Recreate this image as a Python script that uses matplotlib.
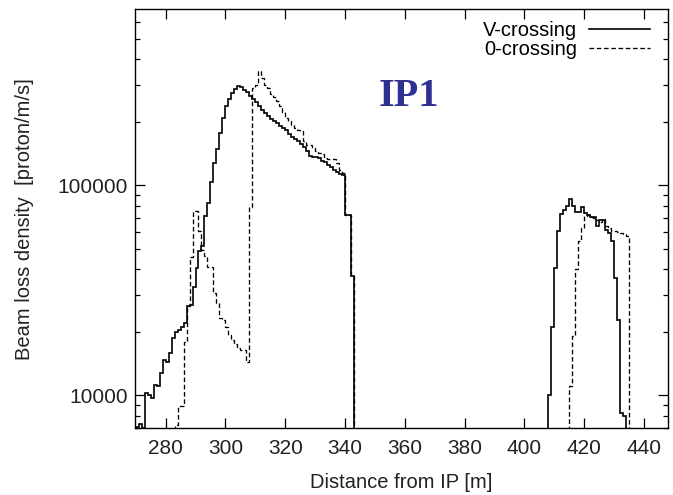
import numpy as np
import matplotlib
matplotlib.use("Agg")
import matplotlib.pyplot as plt
from matplotlib.lines import Line2D

# ---------------- data (1 m bins) ----------------
bin_width = 1.0

vcross_left_start = 270
vcross_left = [7100, 7300, 7000, 10260, 10000, 9700, 11250, 11100, 12800, 14800,
               14500, 15900, 18750, 19950, 20400, 21200, 22100, 26600, 27000, 33000,
               40500, 48500, 51300, 71200, 82500, 103400, 127900, 149000, 178700, 209400,
               237700, 257600, 275400, 287900, 296000, 293000, 285800, 277300, 265600, 257600,
               248500, 240000, 229300, 222000, 214600, 207000, 203000, 198000, 192000, 187000,
               182700, 176000, 170000, 166000, 162000, 157000, 152500, 146000, 138600, 137000,
               136000, 134600, 131000, 128900, 125000, 122500, 119000, 115400, 114000, 112200,
               72400, 72400, 37200]

vcross_right_start = 408
vcross_right = [10070, 21300, 40500, 60400, 73000, 76600, 80000, 86100, 80000, 75100,
                75100, 78900, 73800, 72500, 71100, 71100, 63800, 68700, 68700, 61500,
                59300, 54100, 36200, 22900, 8250, 8000]

zcross_left_start = 283
zcross_left = [7200, 8900, 8900, 18000, 26600, 45600, 75200, 75200, 60400, 49400,
               45900, 40800, 40800, 30800, 27600, 23500, 22900, 21300, 19500, 18400,
               17500, 16800, 16500, 16500, 14500, 79400, 290000, 300000, 349000, 324000,
               301000, 290000, 274000, 265000, 253000, 237700, 224700, 209000, 201700, 194500,
               187600, 184200, 180800, 162200, 155000, 155000, 150700, 146000, 143000, 140500,
               135500, 134000, 133500, 134000, 128000, 118800, 114500, 72400, 72400, 37200]

zcross_right_start = 415
zcross_right = [11100, 19300, 40000, 54100, 63000, 71500, 72500, 71000, 70000, 68500,
                67000, 69000, 64000, 62500, 61000, 60400, 60000, 59500, 59000, 57500]

x_ticks = [280, 300, 320, 340, 360, 380, 400, 420, 440]
x_limits = (269.6, 448.0)
y_limits = (7000, 690000)
y_ticks = [10000, 100000]
y_ticklabels = ["10000", "100000"]

labels = ["V-crossing", "0-crossing"]
title_text = "IP1"
xlabel = "Distance from IP [m]"
ylabel = "Beam loss density  [proton/m/s]"


def edges(start, vals):
    return start + bin_width * np.arange(len(vals) + 1)


plt.rcParams['font.family'] = ['Liberation Sans', 'DejaVu Sans']

fig = plt.figure(figsize=(6.73, 4.95), dpi=100)
W, H = 673, 495
ax = fig.add_axes([134.5 / W, 1 - 428 / H, (668 - 134.5) / W, (428 - 9.3) / H])

solid_kw = dict(color='black', linewidth=1.2, baseline=1)
dash_kw = dict(color='black', linewidth=0.95, baseline=1, linestyle=(0, (3.5, 2.0)))

ax.stairs(vcross_left, edges(vcross_left_start, vcross_left), **solid_kw)
ax.stairs(vcross_right, edges(vcross_right_start, vcross_right), **solid_kw)
ax.stairs(zcross_left, edges(zcross_left_start, zcross_left), **dash_kw)
ax.stairs(zcross_right, edges(zcross_right_start, zcross_right), **dash_kw)

ax.set_yscale('log')
ax.set_xlim(*x_limits)
ax.set_ylim(*y_limits)
ax.set_xticks(x_ticks)
ax.set_xticklabels([str(t) for t in x_ticks])
ax.set_yticks(y_ticks)
ax.set_yticklabels(y_ticklabels)
ax.yaxis.set_minor_locator(matplotlib.ticker.LogLocator(base=10, subs=np.arange(2, 10)))
ax.yaxis.set_minor_formatter(matplotlib.ticker.NullFormatter())

ax.tick_params(which='both', direction='in', top=True, right=True, colors='black',
               labelsize=15, width=0.9, labelcolor='#222222')
ax.tick_params(which='major', length=7.5)
ax.tick_params(axis='x', which='major', pad=8)
ax.tick_params(axis='y', which='major', pad=5)
ax.tick_params(which='minor', length=3.8)
for s in ax.spines.values():
    s.set_linewidth(1.0)

ax.set_xlabel(xlabel, fontsize=14.5, color='#222222', labelpad=11)
ax.set_ylabel(ylabel, fontsize=14.5, color='#222222', labelpad=17)

handles = [Line2D([], [], color='black', linewidth=1.2),
           Line2D([], [], color='black', linewidth=0.95, linestyle=(0, (3.5, 2.0)))]
ax.legend(handles, labels, loc='upper right', bbox_to_anchor=(0.988, 1.0),
          markerfirst=False, frameon=False, fontsize=14.5, handlelength=3.0,
          handletextpad=0.6, labelspacing=0.0, borderaxespad=0.2)

ax.text(0.515, 0.792, title_text, transform=ax.transAxes, ha='center', va='center',
        fontsize=29, fontweight='bold', color='#2E3192',
        family=['Liberation Serif', 'DejaVu Serif'])

fig.savefig('out.png', dpi=100, facecolor='white')
